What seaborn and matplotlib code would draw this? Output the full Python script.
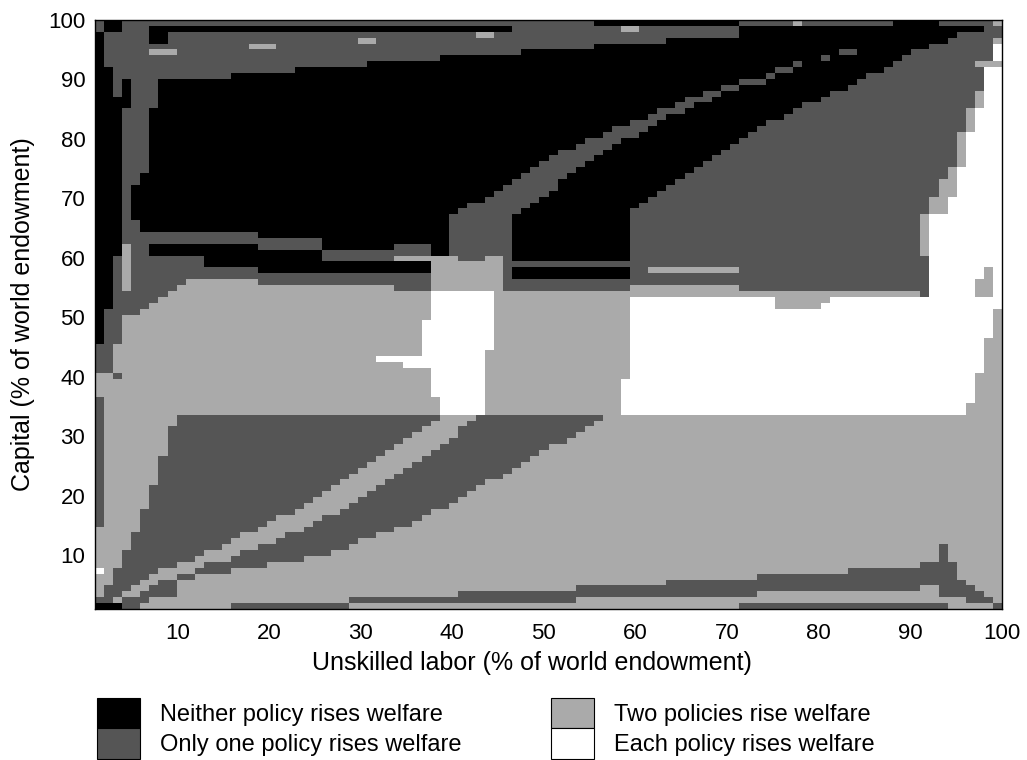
import numpy as np
import matplotlib
matplotlib.use("Agg")
import matplotlib.pyplot as plt
from matplotlib.colors import ListedColormap
from matplotlib.patches import Patch
from matplotlib.path import Path
import seaborn as sns

plt.rcParams["font.family"] = ["Liberation Sans", "DejaVu Sans"]

# Welfare outcome classes and their grey levels
categories = ["Neither policy rises welfare", "Only one policy rises welfare",
              "Two policies rise welfare", "Each policy rises welfare"]
palette = ["#000000", "#555555", "#aaaaaa", "#ffffff"]
NEITHER, ONE, TWO, EACH = 0, 1, 2, 3

n_labor = 100      # unskilled labor share, 1..100 %
n_capital = 100    # capital share, 1..100 %
labor_ticks = [10, 20, 30, 40, 50, 60, 70, 80, 90, 100]
capital_ticks = [10, 20, 30, 40, 50, 60, 70, 80, 90, 100]

# Rectangular zones: (class, labor from, labor to, capital from, capital to)
upper_zone = [(NEITHER, 1, 100, 55, 100)]

middle_bands = [
    (ONE, 3, 12, 46, 60), (TWO, 4, 12, 34, 50), (TWO, 6, 12, 51, 51),
    (TWO, 7, 12, 52, 52), (TWO, 8, 12, 53, 53), (TWO, 9, 12, 54, 54),
    (TWO, 10, 12, 55, 55), (TWO, 11, 12, 56, 56), (TWO, 4, 4, 55, 62),
    (ONE, 5, 6, 61, 62), (ONE, 4, 18, 63, 64),
    (TWO, 13, 18, 34, 56), (ONE, 13, 18, 57, 58),
    (TWO, 19, 25, 34, 55), (ONE, 19, 25, 56, 57), (ONE, 19, 25, 62, 63),
    (TWO, 26, 33, 34, 55), (ONE, 26, 33, 56, 57), (ONE, 26, 33, 60, 61),
    (TWO, 34, 37, 34, 54), (ONE, 34, 37, 55, 57), (ONE, 34, 37, 61, 62),
    (TWO, 38, 45, 55, 59), (TWO, 34, 40, 60, 60), (TWO, 44, 45, 60, 60),
    (ONE, 41, 43, 60, 60), (ONE, 46, 46, 55, 67),
    (ONE, 46, 59, 55, 56), (ONE, 46, 61, 59, 59),
]

left_edge = [
    (ONE, 1, 1, 99, 100), (NEITHER, 2, 3, 99, 100), (ONE, 2, 3, 93, 98),
    (ONE, 3, 3, 88, 92), (NEITHER, 1, 1, 46, 54), (NEITHER, 2, 2, 52, 54),
    (ONE, 2, 3, 46, 51), (ONE, 3, 3, 52, 56), (ONE, 1, 2, 41, 45),
    (ONE, 3, 3, 40, 40),
    (ONE, 5, 7, 86, 90), (ONE, 4, 6, 75, 85), (ONE, 4, 5, 73, 74),
    (ONE, 4, 4, 65, 72), (ONE, 5, 5, 63, 66),
]

top_band = [
    (ONE, 4, 15, 91, 100), (ONE, 16, 22, 92, 100), (ONE, 23, 30, 93, 100),
    (ONE, 31, 38, 94, 100), (ONE, 39, 47, 95, 100), (ONE, 48, 55, 96, 100),
    (ONE, 56, 63, 97, 99), (ONE, 64, 71, 98, 99), (ONE, 72, 88, 100, 100),
    (ONE, 94, 99, 100, 100),
    (NEITHER, 7, 46, 99, 99), (NEITHER, 7, 8, 97, 98),
]

top_specks = [
    (TWO, 7, 9, 95, 95), (TWO, 18, 20, 96, 96), (TWO, 30, 31, 97, 97),
    (TWO, 43, 44, 98, 98), (TWO, 59, 60, 99, 99), (TWO, 78, 78, 100, 100),
    (TWO, 100, 100, 100, 100),
]

stripe_dots = [
    (ONE, 76, 77, 92, 92), (ONE, 78, 78, 93, 93), (ONE, 81, 81, 94, 94),
    (ONE, 83, 84, 95, 95),
]

right_strip = [
    (TWO, 60, 71, 55, 55), (TWO, 62, 71, 58, 58),
    (EACH, 93, 100, 55, 67), (TWO, 92, 92, 61, 67),
    (TWO, 98, 99, 55, 56), (TWO, 99, 99, 57, 58),
    (TWO, 93, 94, 68, 70), (EACH, 95, 100, 68, 70),
    (TWO, 94, 95, 71, 73), (EACH, 96, 100, 71, 73),
    (TWO, 95, 95, 74, 75), (EACH, 96, 100, 74, 75),
    (TWO, 96, 96, 76, 81), (EACH, 97, 100, 76, 81),
    (TWO, 97, 97, 82, 85), (EACH, 98, 100, 82, 85),
    (TWO, 98, 98, 86, 88), (EACH, 99, 100, 86, 88),
    (EACH, 99, 100, 89, 92), (TWO, 98, 100, 93, 93),
    (EACH, 100, 100, 94, 96), (TWO, 100, 100, 97, 97),
    (ONE, 92, 92, 54, 54), (EACH, 93, 97, 54, 54), (TWO, 98, 99, 54, 54),
]

white_zones = [
    (EACH, 60, 100, 40, 53), (EACH, 59, 100, 34, 39),
    (TWO, 100, 100, 47, 51), (TWO, 99, 100, 41, 46), (TWO, 98, 100, 36, 40),
    (TWO, 97, 100, 34, 35), (TWO, 76, 80, 52, 53), (TWO, 81, 81, 53, 53),
    (EACH, 100, 100, 52, 54),
    (EACH, 38, 44, 45, 54), (EACH, 38, 43, 34, 44), (TWO, 38, 38, 34, 36),
    (EACH, 37, 37, 42, 49), (EACH, 32, 36, 43, 43), (EACH, 35, 36, 42, 42),
]

left_column = [
    (ONE, 1, 1, 15, 36), (EACH, 1, 1, 7, 7),
]

bottom_bands = [
    (NEITHER, 1, 3, 1, 1), (ONE, 4, 5, 1, 1), (TWO, 6, 15, 1, 1),
    (ONE, 16, 28, 1, 1),
    (ONE, 1, 2, 2, 2), (TWO, 3, 3, 2, 2), (ONE, 4, 6, 2, 2), (TWO, 7, 28, 2, 2),
    (ONE, 29, 53, 2, 2), (ONE, 41, 53, 3, 3), (ONE, 54, 63, 3, 4),
    (ONE, 64, 73, 3, 5), (ONE, 74, 83, 4, 6), (ONE, 84, 91, 4, 7),
    (ONE, 72, 94, 1, 1), (ONE, 92, 93, 5, 8), (ONE, 94, 94, 3, 11),
    (ONE, 95, 95, 3, 8), (ONE, 96, 96, 3, 5), (ONE, 97, 97, 2, 4),
    (ONE, 98, 98, 2, 3), (ONE, 99, 99, 2, 2), (ONE, 100, 100, 1, 1),
]

# Curved boundaries as outlines in (labor, capital) units
stripe_outline = [
    (39.5, 60.5), (39.5, 66.5), (41.0, 68.3), (46.3, 72.8), (51.8, 77.9),
    (56.9, 81.3), (62.1, 84.7), (66.8, 87.6), (70.1, 89.4), (73.0, 90.6),
    (75.6, 91.6), (75.6, 90.6), (73.1, 89.6), (69.4, 87.8), (64.0, 84.1),
    (58.4, 79.6), (51.8, 72.8), (47.0, 67.5), (46.5, 66.5), (46.5, 60.5),
]
upper_wedge_outline = [
    (59.5, 54.5), (59.5, 68.5), (67.2, 75.5), (75.3, 83.5), (83.4, 89.1),
    (90.7, 94.9), (96.6, 98.5), (100.5, 99.8), (100.5, 54.5),
]
lower_wedge_a_outline = [
    (9.5, 33.5), (8.0, 26.5), (6.5, 19.5), (4.5, 12.0), (2.5, 6.5),
    (1.5, 2.5), (3.5, 2.5), (3.5, 3.0), (5.5, 5.0), (7.5, 7.0),
    (11.5, 9.2), (15.0, 11.5), (22.0, 17.0), (30.5, 25.0), (39.0, 33.5),
]
lower_wedge_b_outline = [
    (42.5, 33.5), (38.5, 27.5), (29.4, 18.4), (20.5, 12.2), (15.5, 9.2),
    (12.5, 8.0), (11.5, 7.0), (9.5, 6.0), (7.5, 5.0), (5.5, 3.5),
    (5.5, 2.5), (9.5, 2.5), (9.5, 5.5), (12.5, 6.4), (17.5, 7.4),
    (19.5, 8.2), (24.5, 9.2), (29.0, 11.5), (36.3, 15.6), (57.5, 33.5),
]

# Build the outcome grid (row = capital share, column = labor share)
grid = np.full((n_capital, n_labor), TWO, dtype=int)
lab, cap = np.meshgrid(np.arange(1, n_labor + 1), np.arange(1, n_capital + 1))
centers = np.column_stack([lab.ravel(), cap.ravel()])


def paint_blocks(blocks):
    for code, l0, l1, c0, c1 in blocks:
        grid[c0 - 1:c1, l0 - 1:l1] = code


def paint_outline(code, outline):
    inside = Path(outline).contains_points(centers).reshape(grid.shape)
    grid[inside] = code


paint_blocks(upper_zone)
paint_blocks(middle_bands)
paint_blocks(left_edge)
paint_blocks(top_band)
paint_outline(ONE, stripe_outline)
paint_blocks(stripe_dots)
paint_outline(ONE, upper_wedge_outline)
paint_blocks(right_strip)
paint_blocks(top_specks)
paint_blocks(white_zones)
paint_outline(ONE, lower_wedge_a_outline)
paint_outline(ONE, lower_wedge_b_outline)
paint_blocks(left_column)
paint_blocks(bottom_bands)

fig = plt.figure(figsize=(10.27, 7.6), dpi=100)
ax = fig.add_axes([95 / 1027, 1 - 609 / 760, 907 / 1027, 589 / 760])

sns.heatmap(grid[::-1], ax=ax, cmap=ListedColormap(palette), vmin=-0.5,
            vmax=3.5, cbar=False, xticklabels=False, yticklabels=False)

# The axis runs from 1 to 100 across the full width / height of the image
span = 100 / (n_labor - 1)
ax.set_xticks([(v - 1) * span for v in labor_ticks])
ax.set_xticklabels([str(v) for v in labor_ticks], fontsize=16)
ax.set_yticks([n_capital - (v - 1) * span for v in capital_ticks])
ax.set_yticklabels([str(v) for v in capital_ticks], fontsize=16, rotation=0)
ax.tick_params(axis="both", length=0)
ax.tick_params(axis="x", pad=10)
ax.tick_params(axis="y", pad=7)

for spine in ax.spines.values():
    spine.set_visible(True)
    spine.set_color("black")
    spine.set_linewidth(1.0)

ax.set_xlabel("Unskilled labor (% of world endowment)", fontsize=18)
ax.xaxis.set_label_coords(0.482, -0.072)
ax.set_ylabel("Capital (% of world endowment)", fontsize=18)
ax.yaxis.set_label_coords(-0.066, 0.5)

handles = [Patch(facecolor=c, edgecolor="black", linewidth=0.8) for c in palette]
fig.legend(handles, categories, ncol=2, loc="upper left",
           bbox_to_anchor=(97 / 1027, 1 - 698 / 760), frameon=False,
           fontsize=17, handlelength=1.82, handleheight=1.6, labelspacing=0,
           handletextpad=0.85, columnspacing=3.8, borderpad=0, borderaxespad=0)

fig.savefig("out.png", dpi=100)
